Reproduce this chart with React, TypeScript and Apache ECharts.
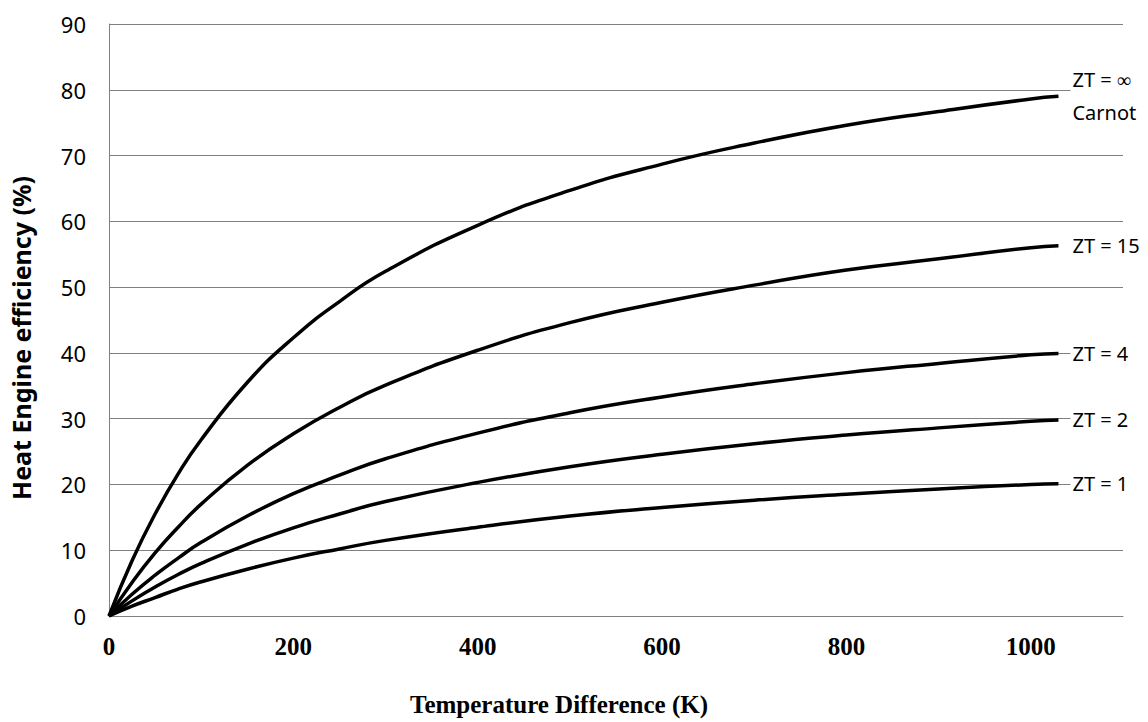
import React, { useEffect, useRef } from "react";
import * as echarts from "echarts";

const deltaT = [0, 25, 50, 75, 100, 150, 200, 250, 300, 400, 500, 600, 700, 800, 900, 1000, 1030];
const carnot = [0, 8.4, 15.5, 21.6, 26.8, 35.5, 42.3, 47.8, 52.4, 59.4, 64.7, 68.7, 71.9, 74.6, 76.7, 78.6, 79.0];
const zt15 = [0, 5.1, 9.6, 13.5, 17.0, 22.9, 27.7, 31.7, 35.1, 40.4, 44.6, 47.7, 50.3, 52.6, 54.3, 56.0, 56.3];
const zt4 = [0, 3.3, 6.2, 8.8, 11.2, 15.2, 18.6, 21.4, 23.9, 27.8, 30.9, 33.3, 35.3, 37.0, 38.4, 39.7, 39.9];
const zt2 = [0, 2.3, 4.4, 6.3, 8.0, 10.9, 13.4, 15.5, 17.4, 20.3, 22.7, 24.6, 26.2, 27.5, 28.6, 29.6, 29.8];
const zt1 = [0, 1.5, 2.8, 4.1, 5.2, 7.1, 8.8, 10.2, 11.5, 13.5, 15.2, 16.5, 17.6, 18.5, 19.3, 20.0, 20.1];

const seriesDefs = [
  { name: "ZT = ∞\nCarnot", values: carnot },
  { name: "ZT = 15", values: zt15 },
  { name: "ZT = 4", values: zt4 },
  { name: "ZT = 2", values: zt2 },
  { name: "ZT = 1", values: zt1 },
];

const yTicks = { min: 0, max: 90, interval: 10 };
const xTicks = { min: 0, max: 1100, interval: 200 };

export default function App() {
  const ref = useRef<HTMLDivElement>(null);
  useEffect(() => {
    if (!ref.current) return;
    const chart = echarts.init(ref.current, null, { renderer: "svg" });
    chart.setOption({
      animation: false,
      backgroundColor: "#fff",
      grid: { left: 103, right: 25, top: 24, bottom: 106, containLabel: false },
      xAxis: {
        type: "value",
        min: xTicks.min,
        max: xTicks.max,
        interval: xTicks.interval,
        axisLine: { show: true, lineStyle: { color: "#808080", width: 1 } },
        axisTick: { show: false },
        splitLine: { show: false },
        axisLabel: {
          formatter: (v: number) => (v % 200 === 0 && v <= 1000 ? String(v) : ""),
          fontFamily: "Liberation Serif",
          fontWeight: "bold",
          fontSize: 25,
          color: "#000",
          margin: 18,
        },
      },
      yAxis: {
        type: "value",
        min: yTicks.min,
        max: yTicks.max,
        interval: yTicks.interval,
        name: "Heat Engine efficiency (%)",
        nameLocation: "middle",
        nameGap: 76,
        nameTextStyle: {
          fontFamily: "Noto Sans",
          fontWeight: "bold",
          fontSize: 25,
          color: "#000",
          padding: [0, 0, 0, -36],
        },
        axisLine: { show: true, lineStyle: { color: "#808080", width: 1 } },
        axisTick: { show: false },
        splitLine: { show: true, lineStyle: { color: "#808080", width: 1 } },
        axisLabel: {
          fontFamily: "Noto Sans",
          fontSize: 22,
          color: "#000",
          margin: 23,
        },
      },
      graphic: [
        {
          type: "text",
          left: 410,
          top: 692,
          style: {
            text: "Temperature Difference (K)",
            font: "bold 25px 'Liberation Serif'",
            fill: "#000",
          },
        },
      ],
      series: seriesDefs.map((s) => ({
        type: "line",
        name: s.name,
        data: deltaT.map((x, i) => [x, s.values[i]]),
        smooth: true,
        showSymbol: false,
        lineStyle: { color: "#000", width: 3.5 },
        endLabel: {
          show: true,
          formatter: s.name,
          distance: 12,
          fontFamily: "Noto Sans",
          fontSize: 20,
          lineHeight: 33,
          color: "#000",
          backgroundColor: "#fff",
          padding: [2, 2],
        },
      })),
    });
    return () => chart.dispose();
  }, []);
  return <div ref={ref} style={{ width: 1148, height: 722, position: "absolute", left: 0, top: 0 }} />;
}
